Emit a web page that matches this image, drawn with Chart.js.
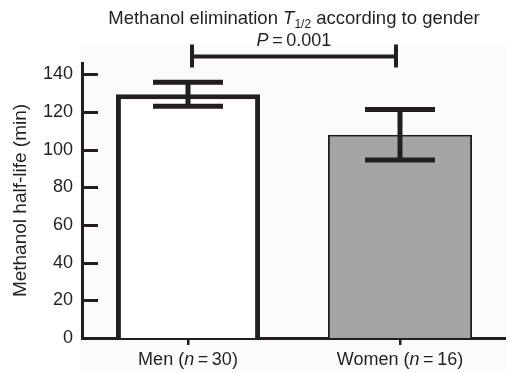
<!DOCTYPE html>
<html>
<head>
<meta charset="utf-8">
<script src="https://cdn.jsdelivr.net/npm/chart.js@4.4.1/dist/chart.umd.min.js"></script>
<style>
  html, body { margin: 0; padding: 0; background: #fff; }
</style>
</head>
<body>
<canvas id="halfLifeChart" width="506" height="373"></canvas>
<script>
// values
var groups = ['Men', 'Women'];
var groupSizes = [30, 16];
var halfLifeMeans = [129.4, 107.9];
var halfLifeErrors = [6.4, 13.4];
var yTicks = [0, 20, 40, 60, 80, 100, 120, 140];
var pValue = '0.001';

var FONT = "'Liberation Sans', Arial, Helvetica, sans-serif";
var INK = '#231f20';

function drawRich(ctx, parts, cx, baseline) {
    var total = 0;
    parts.forEach(function(p) {
        ctx.font = p.font;
        p.w = ctx.measureText(p.text).width;
        total += p.w;
    });
    var x = cx - total / 2;
    ctx.textAlign = 'left';
    ctx.textBaseline = 'alphabetic';
    parts.forEach(function(p) {
        ctx.font = p.font;
        ctx.fillText(p.text, x, baseline + (p.dy || 0));
        x += p.w;
    });
}

var decorations = {
    id: 'decorations',
    beforeDraw: function(chart) {
        var ctx = chart.ctx;
        ctx.save();
        ctx.fillStyle = '#fbfbfb';
        ctx.fillRect(80, 43, chart.width - 80, chart.height - 43);
        ctx.restore();
    },
    afterDatasetsDraw: function(chart) {
        var ctx = chart.ctx;
        var xs = chart.scales.x, ys = chart.scales.y;
        ctx.save();
        ctx.strokeStyle = INK;
        ctx.lineWidth = 5;
        ctx.lineCap = 'butt';
        halfLifeMeans.forEach(function(m, i) {
            var x = xs.getPixelForValue(i);
            var top = ys.getPixelForValue(m + halfLifeErrors[i]);
            var bot = ys.getPixelForValue(m - halfLifeErrors[i]);
            ctx.beginPath();
            ctx.moveTo(x, top); ctx.lineTo(x, bot);
            ctx.moveTo(x - 35, top); ctx.lineTo(x + 35, top);
            ctx.moveTo(x - 35, bot); ctx.lineTo(x + 35, bot);
            ctx.stroke();
        });
        ctx.restore();
    },
    afterDraw: function(chart) {
        var ctx = chart.ctx;
        var xs = chart.scales.x, ys = chart.scales.y;
        var area = chart.chartArea;
        ctx.save();
        ctx.strokeStyle = INK;
        ctx.fillStyle = INK;

        // inward y ticks
        ctx.lineWidth = 3;
        yTicks.forEach(function(v) {
            var y = Math.round(ys.getPixelForValue(v)) + 0.5;
            ctx.beginPath();
            ctx.moveTo(area.left, y);
            ctx.lineTo(area.left + 16, y);
            ctx.stroke();
        });

        // significance bracket
        var x1 = xs.getPixelForValue(0) + 4;
        var x2 = xs.getPixelForValue(1) - 4;
        var yb = ys.getPixelForValue(149.5);
        ctx.lineWidth = 4;
        ctx.beginPath();
        ctx.moveTo(x1, yb); ctx.lineTo(x2, yb);
        ctx.moveTo(x1, yb - 12); ctx.lineTo(x1, yb + 11);
        ctx.moveTo(x2, yb - 12); ctx.lineTo(x2, yb + 11);
        ctx.stroke();

        var cx = (area.left + area.right) / 2;
        drawRich(ctx, [
            { text: 'Methanol elimination ', font: '18.5px ' + FONT },
            { text: 'T', font: 'italic 18.5px ' + FONT },
            { text: '1/2', font: '12px ' + FONT, dy: 4 },
            { text: ' according to gender', font: '18.5px ' + FONT }
        ], cx, 24);
        drawRich(ctx, [
            { text: 'P', font: 'italic 18px ' + FONT },
            { text: '\u2009=\u2009' + pValue, font: '18px ' + FONT }
        ], cx, 46);

        // category labels
        groups.forEach(function(g, i) {
            drawRich(ctx, [
                { text: g + ' (', font: '18px ' + FONT },
                { text: 'n', font: 'italic 18px ' + FONT },
                { text: '\u2009=\u2009' + groupSizes[i] + ')', font: '18px ' + FONT }
            ], xs.getPixelForValue(i), 365);
        });
        ctx.restore();
    }
};

var ctx = document.getElementById('halfLifeChart').getContext('2d');
var halfLifeChart = new Chart(ctx, {
    type: 'bar',
    data: {
        labels: groups,
        datasets: [{
            label: 'Methanol half-life (min)',
            data: halfLifeMeans,
            backgroundColor: ['#ffffff', '#a3a4a6'],
            borderColor: INK,
            borderWidth: [5, 2],
            barPercentage: 0.68,
            categoryPercentage: 1.0
        }]
    },
    options: {
        responsive: false,
        animation: false,
        layout: {
            padding: { top: 63, right: 0, bottom: 28, left: 5 }
        },
        plugins: {
            legend: { display: false },
            tooltip: { enabled: false },
            title: { display: false }
        },
        scales: {
            x: {
                offset: true,
                grid: {
                    offset: false,
                    drawOnChartArea: false,
                    drawTicks: true,
                    tickLength: 7,
                    color: INK,
                    lineWidth: 2.5
                },
                border: { display: true, color: INK, width: 3 },
                ticks: { display: false }
            },
            y: {
                min: 0,
                max: 146,
                afterBuildTicks: function(scale) {
                    scale.ticks = yTicks.map(function(v) { return { value: v }; });
                },
                afterFit: function(scale) {
                    scale.width = 77;
                },
                grid: { display: false, drawTicks: false },
                border: { display: true, color: INK, width: 3 },
                ticks: {
                    padding: 9,
                    color: INK,
                    font: { family: FONT, size: 18 }
                },
                title: {
                    display: true,
                    text: 'Methanol half-life (min)',
                    color: INK,
                    font: { family: FONT, size: 19 },
                    padding: { top: 4, bottom: 0 }
                }
            }
        }
    },
    plugins: [decorations]
});
</script>
</body>
</html>
